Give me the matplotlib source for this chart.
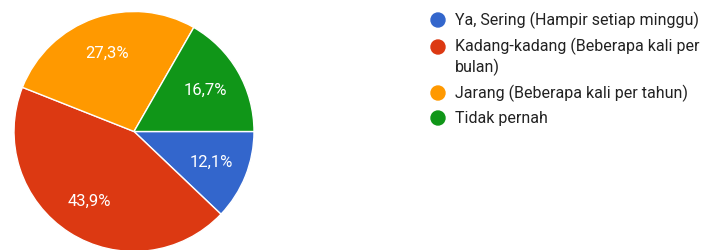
import matplotlib
matplotlib.use("Agg")
import matplotlib.pyplot as plt
from matplotlib.patches import Circle

labels = ["Ya, Sering (Hampir setiap minggu)",
          "Kadang-kadang (Beberapa kali per\nbulan)",
          "Jarang (Beberapa kali per tahun)",
          "Tidak pernah"]
values = [12.1, 43.9, 27.3, 16.7]
colors = ["#3366cc", "#dc3912", "#ff9900", "#109618"]

plt.rcParams['font.family'] = ['Roboto', 'DejaVu Sans']

W, H = 708, 250
fig = plt.figure(figsize=(W / 100, H / 100), dpi=100)
ax = fig.add_axes([0, 0, 1, 1])

cx, cy, r = 134, H - 131.5, 120
wedges, texts, autotexts = ax.pie(
    values, colors=colors, startangle=0, counterclock=False,
    center=(cx, cy), radius=r, frame=True,
    autopct=lambda p: f"{p:.1f}%".replace('.', ','), pctdistance=0.69,
    wedgeprops=dict(edgecolor='white', linewidth=1.0),
    textprops=dict(color='white', fontsize=12))
ax.set_xlim(0, W)
ax.set_ylim(0, H)
ax.set_aspect('equal')
ax.axis('off')

# legend
row_y = [20, 47, 93, 118]
for lab, col, y in zip(labels, colors, row_y):
    ax.add_patch(Circle((438, H - y), 7, color=col))
    if '\n' in lab:
        ax.text(455, H - y + 9.5, lab, va='top', fontsize=11.5,
                color='#222222', linespacing=1.3)
    else:
        ax.text(455, H - y, lab, va='center', fontsize=11.5, color='#222222')

fig.savefig("out.png", dpi=100)
